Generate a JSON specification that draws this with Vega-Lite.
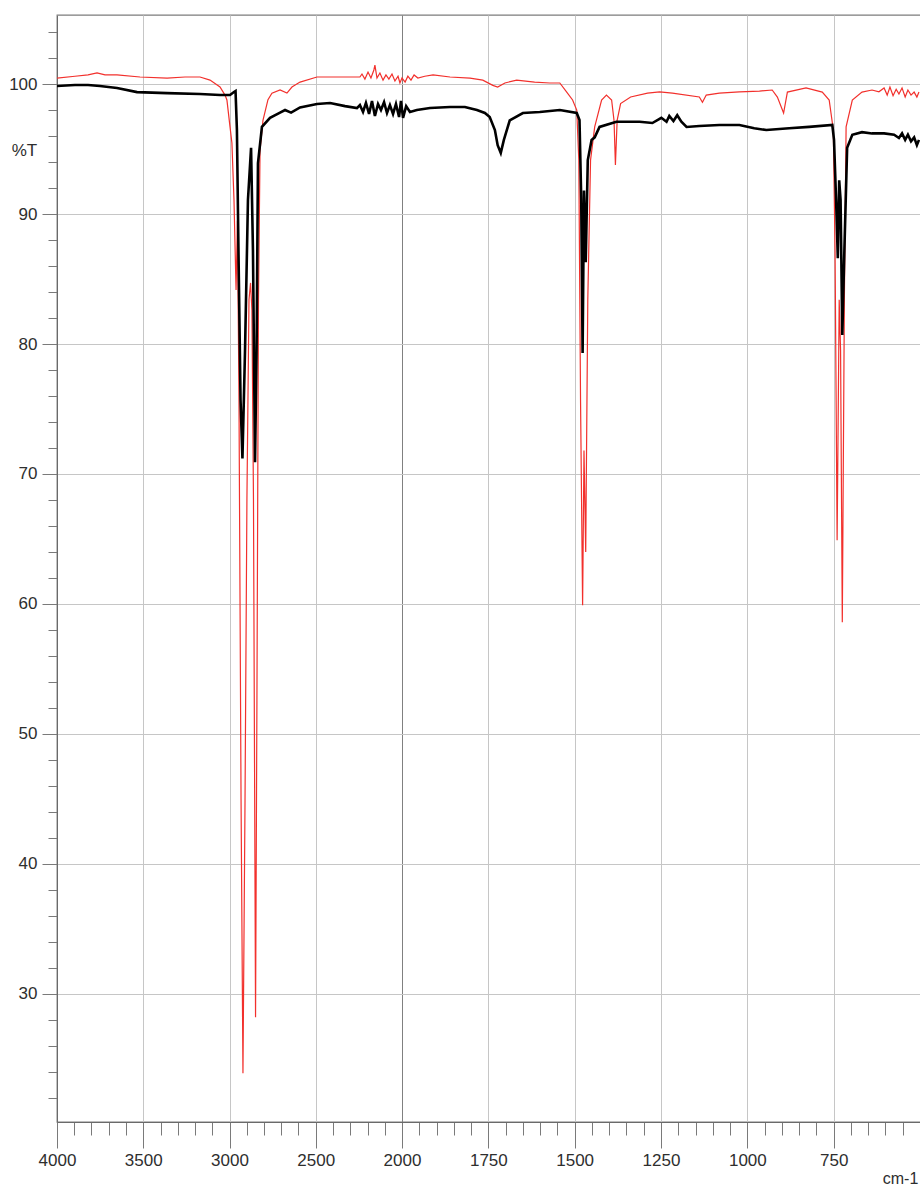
{
  "$schema": "https://vega.github.io/schema/vega-lite/v6.json",
  "width": 864,
  "height": 1107,
  "autosize": {"type": "none"},
  "padding": {"left": 57, "top": 15, "right": 0, "bottom": 63},
  "background": "white",
  "config": {
    "font": "Liberation Sans",
    "view": {"stroke": "#7c7c7c", "strokeWidth": 1.3}
  },
  "datasets": {
    "red": [
      {"w":4000,"T":100.46},{"w":3896,"T":100.6},{"w":3820,"T":100.7},{"w":3768,"T":100.85},{"w":3722,"T":100.7},{"w":3652,"T":100.7},{"w":3519,"T":100.54},{"w":3362,"T":100.46},{"w":3258,"T":100.54},{"w":3171,"T":100.54},{"w":3113,"T":100.3},{"w":3055,"T":99.77},{"w":3026,"T":99.15},{"w":3015,"T":98.77},{"w":2997,"T":96.7},{"w":2986,"T":95.46},{"w":2974,"T":91.1},{"w":2962,"T":84.15},{"w":2954,"T":89.5},{"w":2945,"T":75.7},{"w":2933,"T":44.9},{"w":2922,"T":23.9},{"w":2910,"T":44.9},{"w":2899,"T":68},{"w":2887,"T":83.4},{"w":2878,"T":84.7},{"w":2870,"T":82.6},{"w":2861,"T":68},{"w":2849,"T":28.2},{"w":2841,"T":52.6},{"w":2832,"T":83.4},{"w":2823,"T":94.9},{"w":2806,"T":97.2},{"w":2777,"T":98.8},{"w":2754,"T":99.3},{"w":2707,"T":99.54},{"w":2667,"T":99.3},{"w":2638,"T":99.77},{"w":2591,"T":100.15},{"w":2493,"T":100.54},{"w":2359,"T":100.54},{"w":2244,"T":100.54},{"w":2232,"T":100.77},{"w":2215,"T":100.38},{"w":2197,"T":100.92},{"w":2180,"T":100.46},{"w":2163,"T":101.08},{"w":2157,"T":101.46},{"w":2145,"T":100.46},{"w":2128,"T":100.85},{"w":2110,"T":100.3},{"w":2093,"T":100.7},{"w":2076,"T":100.38},{"w":2058,"T":100.77},{"w":2041,"T":100.23},{"w":2023,"T":100.6},{"w":2012,"T":100.08},{"w":2000,"T":100.46},{"w":1991,"T":100.15},{"w":1983,"T":100.6},{"w":1974,"T":100.3},{"w":1965,"T":100.7},{"w":1954,"T":100.46},{"w":1934,"T":100.6},{"w":1910,"T":100.7},{"w":1861,"T":100.54},{"w":1803,"T":100.46},{"w":1766,"T":100.3},{"w":1737,"T":99.9},{"w":1723,"T":99.77},{"w":1702,"T":100.08},{"w":1668,"T":100.3},{"w":1616,"T":100.15},{"w":1572,"T":100.08},{"w":1543,"T":100.08},{"w":1523,"T":99.38},{"w":1506,"T":98.77},{"w":1494,"T":98},{"w":1488,"T":94.15},{"w":1483,"T":75.7},{"w":1477,"T":59.9},{"w":1473,"T":71.8},{"w":1468,"T":64},{"w":1462,"T":83.4},{"w":1454,"T":94.15},{"w":1442,"T":96.7},{"w":1422,"T":98.77},{"w":1408,"T":99.15},{"w":1393,"T":98.77},{"w":1386,"T":97.2},{"w":1382,"T":93.77},{"w":1377,"T":97.2},{"w":1367,"T":98.5},{"w":1338,"T":99},{"w":1289,"T":99.3},{"w":1254,"T":99.4},{"w":1217,"T":99.3},{"w":1139,"T":99},{"w":1130,"T":98.6},{"w":1119,"T":99.15},{"w":1081,"T":99.3},{"w":1023,"T":99.4},{"w":965,"T":99.46},{"w":928,"T":99.54},{"w":913,"T":99},{"w":895,"T":97.77},{"w":884,"T":99.38},{"w":830,"T":99.7},{"w":783,"T":99.38},{"w":763,"T":98.77},{"w":751,"T":96.46},{"w":746,"T":87.2},{"w":740,"T":64.9},{"w":734,"T":83.4},{"w":730,"T":79.5},{"w":725,"T":58.6},{"w":719,"T":83.4},{"w":714,"T":96.7},{"w":696,"T":98.77},{"w":668,"T":99.38},{"w":639,"T":99.54},{"w":619,"T":99.4},{"w":604,"T":99.7},{"w":595,"T":99.15},{"w":587,"T":99.77},{"w":578,"T":99.1},{"w":569,"T":99.6},{"w":561,"T":99.23},{"w":552,"T":99.7},{"w":543,"T":99},{"w":535,"T":99.54},{"w":526,"T":99.15},{"w":517,"T":99.38},{"w":509,"T":99},{"w":503,"T":99.38}
    ],
    "black": [
      {"w":4000,"T":99.85},{"w":3896,"T":99.92},{"w":3820,"T":99.92},{"w":3751,"T":99.85},{"w":3652,"T":99.7},{"w":3536,"T":99.38},{"w":3362,"T":99.3},{"w":3171,"T":99.23},{"w":3055,"T":99.15},{"w":2997,"T":99.15},{"w":2974,"T":99.38},{"w":2965,"T":99.46},{"w":2957,"T":96.46},{"w":2948,"T":87.2},{"w":2936,"T":75.7},{"w":2925,"T":71.2},{"w":2910,"T":79.5},{"w":2893,"T":91.1},{"w":2875,"T":95.1},{"w":2864,"T":87.2},{"w":2852,"T":70.9},{"w":2843,"T":79.5},{"w":2835,"T":93.9},{"w":2812,"T":96.7},{"w":2765,"T":97.4},{"w":2707,"T":97.8},{"w":2678,"T":98},{"w":2643,"T":97.8},{"w":2591,"T":98.2},{"w":2493,"T":98.46},{"w":2417,"T":98.54},{"w":2330,"T":98.3},{"w":2261,"T":98.15},{"w":2244,"T":98.38},{"w":2226,"T":97.85},{"w":2209,"T":98.54},{"w":2191,"T":97.7},{"w":2174,"T":98.7},{"w":2157,"T":97.54},{"w":2139,"T":98.46},{"w":2122,"T":98},{"w":2104,"T":98.6},{"w":2087,"T":97.77},{"w":2070,"T":98.38},{"w":2052,"T":97.7},{"w":2035,"T":98.46},{"w":2017,"T":97.46},{"w":2006,"T":98.7},{"w":1997,"T":97.4},{"w":1988,"T":98.3},{"w":1977,"T":97.85},{"w":1957,"T":98},{"w":1919,"T":98.15},{"w":1861,"T":98.23},{"w":1818,"T":98.23},{"w":1783,"T":98},{"w":1760,"T":97.77},{"w":1746,"T":97.46},{"w":1731,"T":96.46},{"w":1723,"T":95.3},{"w":1714,"T":94.7},{"w":1705,"T":95.7},{"w":1688,"T":97.2},{"w":1650,"T":97.77},{"w":1601,"T":97.85},{"w":1543,"T":98},{"w":1494,"T":97.77},{"w":1486,"T":97.23},{"w":1481,"T":91.1},{"w":1477,"T":79.3},{"w":1473,"T":91.8},{"w":1468,"T":86.3},{"w":1462,"T":94.15},{"w":1451,"T":95.7},{"w":1442,"T":95.9},{"w":1428,"T":96.7},{"w":1379,"T":97.1},{"w":1312,"T":97.1},{"w":1275,"T":97},{"w":1249,"T":97.4},{"w":1234,"T":97.1},{"w":1226,"T":97.54},{"w":1214,"T":97.15},{"w":1203,"T":97.6},{"w":1191,"T":97.1},{"w":1176,"T":96.7},{"w":1139,"T":96.77},{"w":1081,"T":96.85},{"w":1023,"T":96.85},{"w":980,"T":96.6},{"w":945,"T":96.46},{"w":879,"T":96.6},{"w":821,"T":96.7},{"w":754,"T":96.85},{"w":749,"T":95.7},{"w":743,"T":91.1},{"w":738,"T":86.6},{"w":734,"T":92.6},{"w":730,"T":91.1},{"w":725,"T":80.7},{"w":719,"T":87.2},{"w":711,"T":95.1},{"w":696,"T":96.1},{"w":668,"T":96.3},{"w":639,"T":96.2},{"w":604,"T":96.2},{"w":575,"T":96.1},{"w":561,"T":95.85},{"w":552,"T":96.2},{"w":543,"T":95.7},{"w":535,"T":96.1},{"w":526,"T":95.6},{"w":517,"T":95.9},{"w":509,"T":95.3},{"w":503,"T":95.7}
    ]
  },
  "encoding": {
    "x": {
      "field": "w",
      "type": "quantitative",
      "scale": {"domain": [4000, 2000, 500], "range": [0, 345, 863], "nice": false, "zero": false},
      "axis": {
        "values": [4000,3900,3800,3700,3600,3500,3400,3300,3200,3100,3000,2900,2800,2700,2600,2500,2400,2300,2200,2100,2000,1950,1900,1850,1800,1750,1700,1650,1600,1550,1500,1450,1400,1350,1300,1250,1200,1150,1100,1050,1000,950,900,850,800,750,700,650,600,550,500],
        "format": "d",
        "labelExpr": "(datum.value > 500 && (datum.value >= 2000 ? datum.value % 500 == 0 : datum.value % 250 == 0)) ? datum.label : ''",
        "labelOverlap": false,
        "labelFlush": false,
        "labelBound": false,
        "labelFontSize": 17,
        "labelColor": "#2e2e2e",
        "labelPadding": 4,
        "tickColor": "#7a7a7a",
        "tickWidth": 1,
        "tickSize": {"condition": {"test": "datum.value > 500 && (datum.value >= 2000 ? datum.value % 500 == 0 : datum.value % 250 == 0)", "value": 26}, "value": 13},
        "grid": true,
        "gridColor": {"condition": {"test": "datum.value == 2000", "value": "#808080"}, "value": "#c6c6c6"},
        "gridOpacity": {"condition": {"test": "datum.value > 500 && (datum.value >= 2000 ? datum.value % 500 == 0 : datum.value % 250 == 0)", "value": 1}, "value": 0},
        "gridWidth": 1,
        "domainColor": "#6a6a6a",
        "domainWidth": 1,
        "title": "cm-1",
        "titleX": 843,
        "titleY": 56,
        "titleAlign": "center",
        "titleBaseline": "middle",
        "titleFontSize": 16,
        "titleFontWeight": "normal",
        "titleColor": "#2e2e2e"
      }
    },
    "y": {
      "field": "T",
      "type": "quantitative",
      "scale": {"domain": [20.15, 105.31], "nice": false, "zero": false},
      "axis": {
        "values": [22,24,26,28,30,32,34,36,38,40,42,44,46,48,50,52,54,56,58,60,62,64,66,68,70,72,74,76,78,80,82,84,86,88,90,92,94,96,98,100,102,104],
        "labelExpr": "datum.value % 10 == 0 ? datum.label : ''",
        "labelOverlap": false,
        "labelFlush": false,
        "labelBound": false,
        "labelFontSize": 17,
        "labelColor": "#2e2e2e",
        "labelPadding": 5,
        "tickColor": "#7a7a7a",
        "tickWidth": 1,
        "tickSize": {"condition": {"test": "datum.value % 10 == 0", "value": 15}, "value": 9},
        "grid": true,
        "gridColor": "#c6c6c6",
        "gridOpacity": {"condition": {"test": "datum.value % 10 == 0", "value": 1}, "value": 0},
        "gridWidth": 1,
        "domainColor": "#6a6a6a",
        "domainWidth": 1,
        "title": "%T",
        "titleAngle": 0,
        "titleX": -33,
        "titleY": 135,
        "titleAlign": "center",
        "titleBaseline": "middle",
        "titleFontSize": 17,
        "titleFontWeight": "normal",
        "titleColor": "#2e2e2e"
      }
    }
  },
  "layer": [
    {
      "data": {"name": "red"},
      "mark": {"type": "line", "color": "#f2302c", "strokeWidth": 1.2, "clip": true}
    },
    {
      "data": {"name": "black"},
      "mark": {"type": "line", "color": "#000000", "strokeWidth": 2.6, "clip": true}
    }
  ]
}
